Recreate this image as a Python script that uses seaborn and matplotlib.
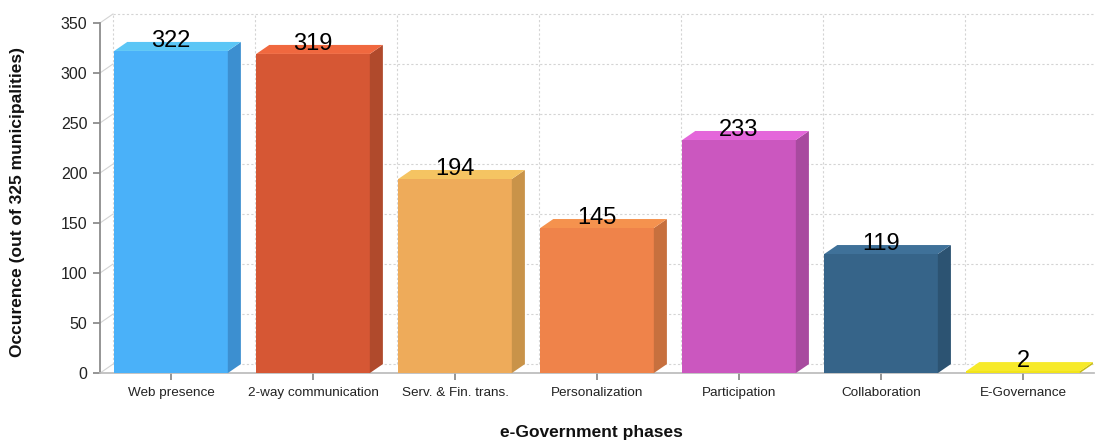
import numpy as np
import pandas as pd
import matplotlib
matplotlib.use("Agg")
import matplotlib.pyplot as plt
from matplotlib.patches import Polygon
import seaborn as sns

# DATA
phases = [
    "Web presence",
    "2-way communication",
    "Serv. & Fin. trans.",
    "Personalization",
    "Participation",
    "Collaboration",
    "E-Governance",
]
occurrence = [322, 319, 194, 145, 233, 119, 2]
y_ticks = [0, 50, 100, 150, 200, 250, 300, 350]

# colours: front / side / top face of each 3D bar
front_colors = ["#4AB1F9", "#D65734", "#EEAB5A", "#EF834A", "#CB57BF", "#366489", "#F2E41A"]
side_colors = ["#3C8FD0", "#B04A2C", "#C99349", "#C7703E", "#A84A9F", "#2C5372", "#C8BC16"]
top_colors = ["#5BC6F6", "#F0683F", "#F5C462", "#F5924E", "#E466DA", "#3F7199", "#F7EA2A"]

df = pd.DataFrame({"Phase": phases, "Occurrence": occurrence})

# STYLE
sns.set_theme(style="white")
plt.rcParams["font.family"] = ["Liberation Sans", "DejaVu Sans"]

DX = 0.092   # depth of the 3D effect, category units
DY = 9       # depth of the 3D effect, data units
GRID_COLOR = "#d4d4d4"

fig = plt.figure(figsize=(10.99, 4.41), dpi=100)
ax = fig.add_axes([0.091, 0.154, 0.9045, 0.794])

sns.barplot(
    data=df, x="Phase", y="Occurrence", hue="Phase", order=phases,
    hue_order=phases, palette=front_colors, saturation=1, width=0.8,
    legend=False, ax=ax, zorder=3, linewidth=0, edgecolor="none",
)

ax.set_xlim(-0.5, len(phases) - 0.5)
ax.set_ylim(0, 350)

# back wall grid (shifted by the depth offset)
x_left = -0.5
x_right = len(phases) - 0.5
for y in y_ticks:
    ax.plot([x_left + DX, x_right], [y + DY, y + DY], ls=(0, (2, 2)),
            color=GRID_COLOR, lw=0.8, zorder=1, clip_on=False)
    ax.plot([x_left, x_left + DX], [y, y + DY], color=GRID_COLOR,
            lw=0.8, zorder=1, clip_on=False)
for i in range(len(phases)):
    xv = i - 0.5 + DX
    ax.plot([xv, xv], [DY, 350 + DY], ls=(0, (2, 2)), color=GRID_COLOR,
            lw=0.8, zorder=1, clip_on=False)

# side and top faces for each bar
bars = sorted(ax.patches, key=lambda p: p.get_x())
for i, bar in enumerate(bars):
    x0 = bar.get_x()
    w = bar.get_width()
    h = bar.get_height()
    x1 = x0 + w
    side = Polygon([(x1, 0), (x1 + DX, DY), (x1 + DX, h + DY), (x1, h)],
                   closed=True, facecolor=side_colors[i], edgecolor="none",
                   zorder=3, clip_on=False)
    top = Polygon([(x0, h), (x0 + DX, h + DY), (x1 + DX, h + DY), (x1, h)],
                  closed=True, facecolor=top_colors[i], edgecolor="none",
                  zorder=3, clip_on=False)
    ax.add_patch(side)
    ax.add_patch(top)
    ax.text(x0 + w / 2, h + 4, str(occurrence[i]), ha="center",
            va="baseline", fontsize=17, color="black", zorder=5)

# axes
for s in ["top", "right"]:
    ax.spines[s].set_visible(False)
ax.spines["left"].set_color("#888888")
ax.spines["bottom"].set_color("#bbbbbb")
ax.set_yticks(y_ticks)
ax.tick_params(axis="y", length=5, color="#888888", labelsize=11.5,
               left=True, pad=4, labelcolor="#222222")
ax.tick_params(axis="x", length=5, color="#888888", labelsize=9.7,
               bottom=True, pad=5, labelcolor="#222222")

ax.set_ylabel("Occurence (out of 325 municipalities)", fontsize=12.5,
              fontweight="bold", color="#111111")
ax.set_xlabel("e-Government phases", fontsize=12.5, fontweight="bold",
              color="#111111")
ax.yaxis.set_label_coords(-0.0755, 0.49)
ax.xaxis.set_label_coords(0.494, -0.149)

plt.savefig("out.png", dpi=100)
plt.close()
